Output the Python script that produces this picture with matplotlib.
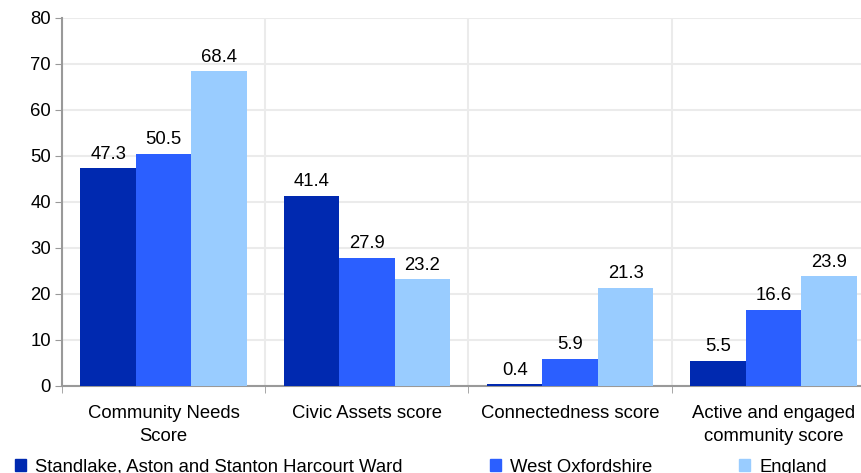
"""Community score comparison: ward vs district vs England"""

import numpy as np
from matplotlib import pyplot as plt
from matplotlib.patches import Patch

plt.rcParams["font.family"] = ["Liberation Sans", "DejaVu Sans"]

categories = [
    "Community Needs\nScore",
    "Civic Assets score",
    "Connectedness score",
    "Active and engaged\ncommunity score",
]
series_names = [
    "Standlake, Aston and Stanton Harcourt Ward",
    "West Oxfordshire",
    "England",
]
ward = [47.3, 41.4, 0.4, 5.5]
district = [50.5, 27.9, 5.9, 16.6]
england = [68.4, 23.2, 21.3, 23.9]
yticks = [0, 10, 20, 30, 40, 50, 60, 70, 80]

COLORS = ["#0029B0", "#2B5FFF", "#99CCFF"]
GRID = "#EBEBEB"
AXIS = "#999999"
FS = 13.3


def main():
    fig = plt.figure(figsize=(8.62, 4.73), dpi=100)
    # the plot area runs a little past the right edge of the picture
    ax = fig.add_axes([0.072, 0.184, 0.943, 0.778])

    x = np.arange(len(categories))
    width = 0.273
    for i, (vals, color) in enumerate(zip([ward, district, england], COLORS)):
        pos = x + (i - 1) * width
        ax.bar(pos, vals, width=width, color=color, zorder=3)
        for px, v in zip(pos, vals):
            ax.text(px, v + 1.2, f"{v:.1f}", ha="center", va="bottom", fontsize=FS)

    ax.set_xlim(-0.5, len(categories) - 0.5)
    ax.set_ylim(0, 80)
    ax.set_yticks(yticks)
    ax.tick_params(axis="y", labelsize=FS, color=AXIS, length=5, pad=3)

    # group labels at centres, tick marks at group boundaries
    ax.set_xticks(x)
    ax.set_xticklabels(categories, fontsize=FS, linespacing=1.45)
    ax.tick_params(axis="x", length=0, pad=14)
    ax.set_xticks(np.arange(len(categories) + 1) - 0.5, minor=True)
    ax.tick_params(axis="x", which="minor", length=5, color=AXIS)

    ax.grid(axis="y", color=GRID, linewidth=1.5, zorder=0)
    ax.grid(axis="x", which="minor", color=GRID, linewidth=1.5, zorder=0)
    ax.grid(axis="x", which="major", visible=False)

    for side in ["top", "right"]:
        ax.spines[side].set_visible(False)
    for side in ["left", "bottom"]:
        ax.spines[side].set_color(AXIS)
        ax.spines[side].set_linewidth(1.5)

    handles = [Patch(color=c) for c in COLORS]
    fig.legend(
        handles,
        series_names,
        loc="center left",
        bbox_to_anchor=(0.0174, 0.012),
        borderpad=0,
        borderaxespad=0,
        ncol=3,
        frameon=False,
        fontsize=FS,
        handlelength=0.6,
        handleheight=0.6,
        handletextpad=0.5,
        columnspacing=4.7,
    )

    fig.savefig("out.png", dpi=100)


if __name__ == "__main__":
    main()
